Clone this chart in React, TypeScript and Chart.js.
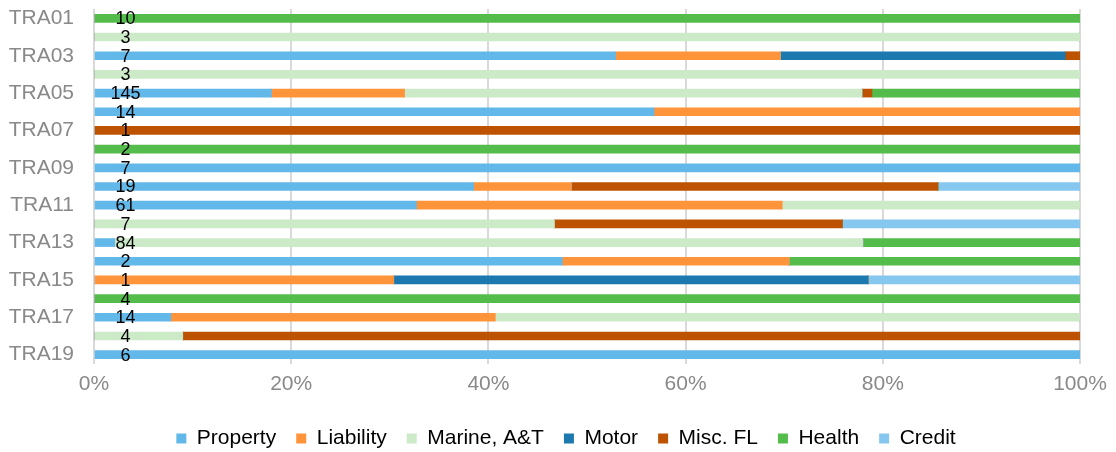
import React, { useEffect, useRef } from "react";
import { Chart, registerables } from "chart.js";

Chart.register(...registerables);

const categories = [
  "TRA01", "TRA02", "TRA03", "TRA04", "TRA05", "TRA06", "TRA07", "TRA08", "TRA09", "TRA10",
  "TRA11", "TRA12", "TRA13", "TRA14", "TRA15", "TRA16", "TRA17", "TRA18", "TRA19",
];

const counts = [10, 3, 7, 3, 145, 14, 1, 2, 7, 19, 61, 7, 84, 2, 1, 4, 14, 4, 6];

const property = [0, 0, 52.9, 0, 18.0, 56.8, 0, 0, 100, 38.5, 32.7, 0, 2.1, 47.5, 0, 0, 7.8, 0, 100];
const liability = [0, 0, 16.7, 0, 13.5, 43.2, 0, 0, 0, 9.9, 37.1, 0, 0, 23.0, 30.4, 0, 32.9, 0, 0];
const marine = [0, 100, 0, 100, 46.4, 0, 0, 0, 0, 0, 30.2, 46.7, 75.9, 0, 0, 0, 59.3, 9.0, 0];
const motor = [0, 0, 28.9, 0, 0, 0, 0, 0, 0, 0, 0, 0, 0, 0, 48.1, 0, 0, 0, 0];
const miscFL = [0, 0, 1.5, 0, 1.0, 0, 100, 0, 0, 37.2, 0, 29.2, 0, 0, 0, 0, 0, 91.0, 0];
const health = [100, 0, 0, 0, 21.1, 0, 0, 100, 0, 0, 0, 0, 22.0, 29.5, 0, 100, 0, 0, 0];
const credit = [0, 0, 0, 0, 0, 0, 0, 0, 0, 14.4, 0, 24.1, 0, 0, 21.5, 0, 0, 0, 0];

const xTicks = [0, 20, 40, 60, 80, 100];

const FONT = "'Liberation Sans', Arial, sans-serif";

const countLabels = {
  id: "countLabels",
  afterLayout(chart: any) {
    if (chart.legend) {
      chart.legend.left = 16;
    }
  },
  afterDatasetsDraw(chart: any) {
    const ctx = chart.ctx;
    const xs = chart.scales.x;
    const meta = chart.getDatasetMeta(0);
    ctx.save();
    ctx.font = `18px ${FONT}`;
    ctx.fillStyle = "#000000";
    ctx.textAlign = "center";
    ctx.textBaseline = "middle";
    const x = xs.getPixelForValue(3.2);
    meta.data.forEach((el: any, i: number) => {
      ctx.fillText(String(counts[i]), x, el.y + 1);
    });
    ctx.restore();
  },
};

export default function App() {
  const ref = useRef<HTMLCanvasElement | null>(null);

  useEffect(() => {
    if (!ref.current) return;
    const mk = (label: string, data: number[], color: string) => ({
      label,
      data,
      backgroundColor: color,
      borderWidth: 0,
      barThickness: 8,
    });
    const chart = new Chart(ref.current, {
      type: "bar",
      data: {
        labels: categories,
        datasets: [
          mk("Property", property, "#62B8E8"),
          mk("Liability", liability, "#FF943B"),
          mk("Marine, A&T", marine, "#CCEAC8"),
          mk("Motor", motor, "#1C79AF"),
          mk("Misc. FL", miscFL, "#BD5300"),
          mk("Health", health, "#53BC4A"),
          mk("Credit", credit, "#86C7EF"),
        ],
      },
      options: {
        indexAxis: "y",
        animation: false,
        responsive: true,
        maintainAspectRatio: false,
        layout: { padding: { top: 9, right: 0, left: 0, bottom: -7 } },
        plugins: {
          legend: {
            position: "bottom",
            labels: {
              boxWidth: 10,
              boxHeight: 10,
              padding: 20,
              color: "#000000",
              font: { size: 21, family: FONT },
            },
          },
          tooltip: { enabled: false },
        },
        scales: {
          x: {
            stacked: true,
            min: 0,
            max: 100,
            afterBuildTicks(scale: any) {
              scale.ticks = xTicks.map((v) => ({ value: v }));
            },
            ticks: {
              callback: (v: any) => `${v}%`,
              color: "#898989",
              font: { size: 21, family: FONT },
              padding: 8,
            },
            grid: { color: "#d9d9d9", lineWidth: 2, drawTicks: false },
            border: { display: false },
            afterFit(scale: any) {
              scale.height = 44;
              scale.paddingRight = 36;
              scale.paddingLeft = 0;
            },
          },
          y: {
            stacked: true,
            ticks: {
              autoSkip: false,
              callback: (_v: any, i: number) => (i % 2 === 0 ? categories[i] : ""),
              color: "#898989",
              font: { size: 21, family: FONT },
              padding: 20,
            },
            grid: { display: false, drawTicks: false },
            border: { display: false },
            afterFit(scale: any) {
              scale.width = 94;
              scale.paddingTop = 0;
              scale.paddingBottom = 0;
            },
          },
        },
      },
      plugins: [countLabels],
    } as any);
    return () => chart.destroy();
  }, []);

  return (
    <div style={{ position: "fixed", left: 0, top: 0, width: 1116, height: 452, background: "#fff" }}>
      <canvas ref={ref} />
    </div>
  );
}
